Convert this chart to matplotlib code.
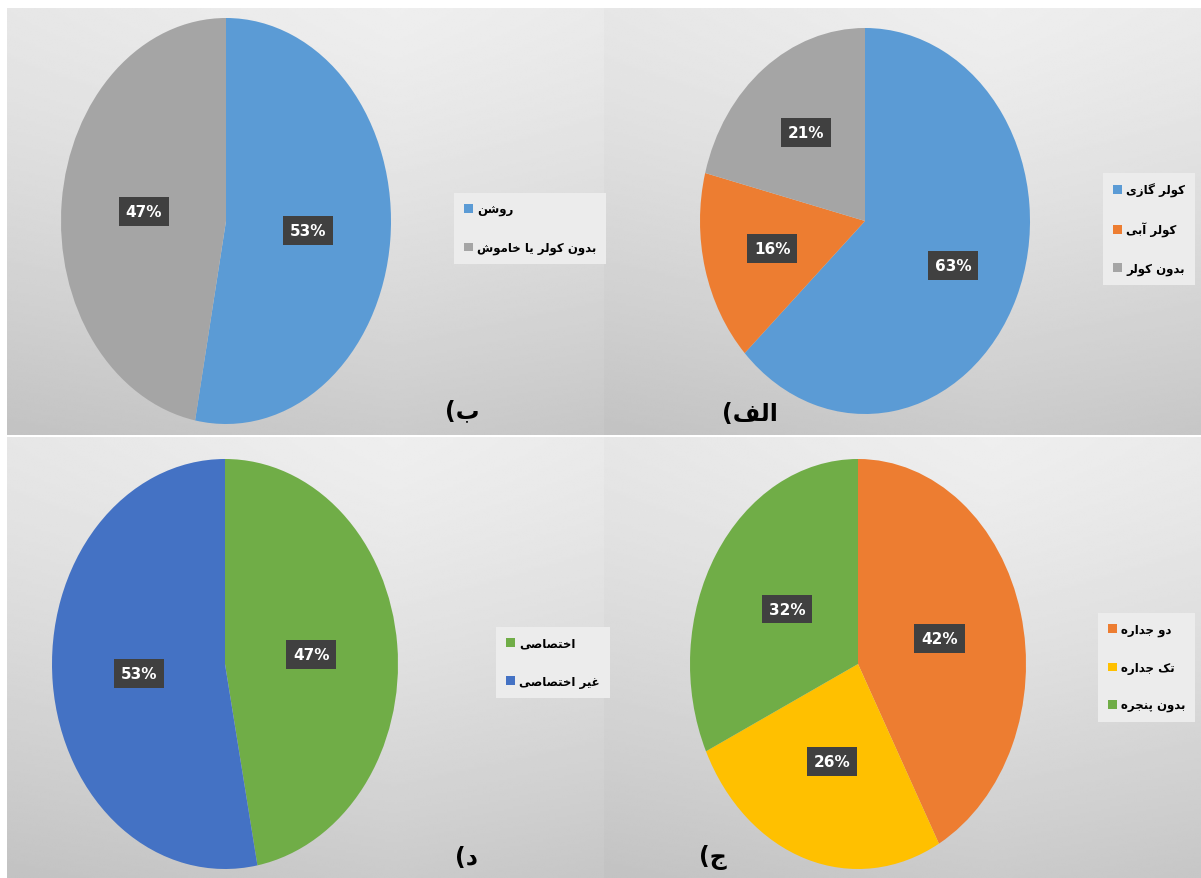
import os

os.environ.setdefault("MPLBACKEND", "Agg")

import matplotlib.pyplot as plt
import numpy as np


W, H = 1201, 879

# panel (ب): cooler on / off
B_LABELS = ["روشن", "بدون کولر یا خاموش"]
B_VALUES = [53, 47]
B_COLORS = ["#5b9bd5", "#a5a5a5"]

# panel (الف): cooler type
ALEF_LABELS = ["کولر گازی", "کولر آبی", "بدون کولر"]
ALEF_VALUES = [63, 16, 21]
ALEF_COLORS = ["#5b9bd5", "#ed7d31", "#a5a5a5"]

# panel (د): private / not private
DAL_LABELS = ["اختصاصی", "غیر اختصاصی"]
DAL_VALUES = [47, 53]
DAL_COLORS = ["#70ad47", "#4472c4"]

# panel (ج): window type
JIM_LABELS = ["دو جداره", "تک جداره", "بدون پنجره"]
JIM_VALUES = [42, 26, 32]
JIM_COLORS = ["#ed7d31", "#ffc000", "#70ad47"]

PANEL_TAGS = ["ب", "الف", "د", "ج"]


# matplotlib has no arabic shaping, so pick presentation forms by hand
# (isolated, final, initial, medial)
FORMS = {
    "\u0627": ("\ufe8d", "\ufe8e", None, None),
    "\u0622": ("\ufe81", "\ufe82", None, None),
    "\u0628": ("\ufe8f", "\ufe90", "\ufe91", "\ufe92"),
    "\u067e": ("\ufb56", "\ufb57", "\ufb58", "\ufb59"),
    "\u062a": ("\ufe95", "\ufe96", "\ufe97", "\ufe98"),
    "\u062c": ("\ufe9d", "\ufe9e", "\ufe9f", "\ufea0"),
    "\u062e": ("\ufea5", "\ufea6", "\ufea7", "\ufea8"),
    "\u062f": ("\ufea9", "\ufeaa", None, None),
    "\u0631": ("\ufead", "\ufeae", None, None),
    "\u0632": ("\ufeaf", "\ufeb0", None, None),
    "\u0634": ("\ufeb5", "\ufeb6", "\ufeb7", "\ufeb8"),
    "\u0635": ("\ufeb9", "\ufeba", "\ufebb", "\ufebc"),
    "\u063a": ("\ufecd", "\ufece", "\ufecf", "\ufed0"),
    "\u0641": ("\ufed1", "\ufed2", "\ufed3", "\ufed4"),
    "\u06a9": ("\ufb8e", "\ufb8f", "\ufb90", "\ufb91"),
    "\u06af": ("\ufb92", "\ufb93", "\ufb94", "\ufb95"),
    "\u0644": ("\ufedd", "\ufede", "\ufedf", "\ufee0"),
    "\u0645": ("\ufee1", "\ufee2", "\ufee3", "\ufee4"),
    "\u0646": ("\ufee5", "\ufee6", "\ufee7", "\ufee8"),
    "\u0647": ("\ufee9", "\ufeea", "\ufeeb", "\ufeec"),
    "\u0648": ("\ufeed", "\ufeee", None, None),
    "\u06cc": ("\ufbfc", "\ufbfd", "\ufbfe", "\ufbff"),
}


def shape(text):
    out = []
    for i, ch in enumerate(text):
        if ch not in FORMS:
            out.append(ch)
            continue
        iso, fin, ini, med = FORMS[ch]
        prev = text[i - 1] if i > 0 else ""
        nxt = text[i + 1] if i + 1 < len(text) else ""
        join_prev = prev in FORMS and FORMS[prev][2] is not None
        join_next = ini is not None and nxt in FORMS
        if join_prev and join_next:
            out.append(med)
        elif join_prev:
            out.append(fin)
        elif join_next:
            out.append(ini)
        else:
            out.append(iso)
    return "".join(reversed(out))


def px_rect(x0, y0, x1, y1):
    return [x0 / W, 1 - y1 / H, (x1 - x0) / W, (y1 - y0) / H]


def add_background(fig, rect):
    ax = fig.add_axes(px_rect(*rect), zorder=0)
    ny, nx = 200, 200
    yy, xx = np.mgrid[0:1:ny * 1j, 0:1:nx * 1j]
    shade = 0.935 - 0.14 * yy ** 1.3 - 0.05 * np.abs(xx - 0.65)
    ax.imshow(shade, cmap="gray", vmin=0, vmax=1, aspect="auto",
              extent=(0, 1, 0, 1), interpolation="bilinear")
    ax.axis("off")


def add_pie(fig, rect, values, colors, labels, legend_anchor, legend_loc,
            tag, tag_xy, pct_dist=0.5):
    ax = fig.add_axes(px_rect(*rect), zorder=2)
    wedges, _, autotexts = ax.pie(
        values,
        colors=colors,
        startangle=90,
        counterclock=False,
        autopct=lambda p: f"{p:.0f}%",
        pctdistance=pct_dist,
        wedgeprops=dict(linewidth=0),
    )
    for t in autotexts:
        t.set_color("white")
        t.set_fontweight("bold")
        t.set_fontsize(11)
        t.set_bbox(dict(boxstyle="square,pad=0.45", fc="#404040", ec="none"))
    ax.set_aspect("auto")
    ax.set_xlim(-1, 1)
    ax.set_ylim(-1, 1)
    ax.axis("off")

    lx, ly = legend_anchor
    fig.legend(
        wedges,
        [shape(s) for s in labels],
        loc=legend_loc,
        bbox_to_anchor=(lx / W, 1 - ly / H),
        frameon=True,
        fancybox=False,
        facecolor="#ececec",
        edgecolor="none",
        framealpha=1,
        handlelength=0.75,
        handleheight=0.75,
        handletextpad=0.35,
        labelspacing=2.1,
        borderpad=0.85,
        prop=dict(size=8.5, weight="bold"),
    )

    fig.text(tag_xy[0] / W, 1 - tag_xy[1] / H, "(" + shape(tag),
             fontsize=17, fontweight="bold", ha="left", va="center", zorder=5)


def main():
    fig = plt.figure(figsize=(W / 100, H / 100), dpi=100)
    fig.patch.set_facecolor("white")

    panels = [(7, 9, 603, 436), (604, 9, 1201, 436),
              (7, 438, 603, 879), (604, 438, 1201, 879)]
    for rect in panels:
        add_background(fig, rect)

    add_pie(fig, (61, 19, 391, 425), B_VALUES, B_COLORS, B_LABELS,
            (448, 188), "upper left", PANEL_TAGS[0], (445, 411))
    add_pie(fig, (700, 29, 1030, 415), ALEF_VALUES, ALEF_COLORS, ALEF_LABELS,
            (1201, 168), "upper right", PANEL_TAGS[1], (722, 414), 0.58)
    add_pie(fig, (52, 460, 398, 870), DAL_VALUES, DAL_COLORS, DAL_LABELS,
            (490, 622), "upper left", PANEL_TAGS[2], (455, 858))
    add_pie(fig, (690, 460, 1026, 870), JIM_VALUES, JIM_COLORS, JIM_LABELS,
            (1201, 608), "upper right", PANEL_TAGS[3], (699, 858))

    fig.savefig("out.png", dpi=100)
    plt.close(fig)


if __name__ == "__main__":
    main()
